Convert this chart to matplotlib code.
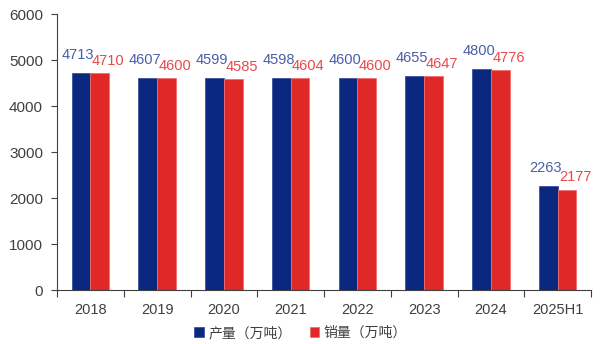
import numpy as np
import matplotlib
matplotlib.use("Agg")
from matplotlib import pyplot as plt

plt.rcParams['font.family'] = ['Liberation Sans', 'Noto Sans CJK SC', 'DejaVu Sans']

years = ['2018', '2019', '2020', '2021', '2022', '2023', '2024', '2025H1']
output = [4713, 4607, 4599, 4598, 4600, 4655, 4800, 2263]
sales = [4710, 4600, 4585, 4604, 4600, 4647, 4776, 2177]
names = ['产量（万吨）', '销量（万吨）']

c_blue = '#0a2880'
c_red = '#e02826'
c_blue_txt = '#4a5ea6'
c_red_txt = '#e8494b'

fig = plt.figure(figsize=(6.01, 3.44), dpi=100)
ax = fig.add_axes([57/601, 1-290/344, (591-57)/601, (290-14)/344])

x = np.arange(len(years))
w = 0.28
ax.bar(x - w/2, output, w, color=c_blue, edgecolor='#3c52a0', linewidth=0.6, label=names[0])
ax.bar(x + w/2, sales, w, color=c_red, edgecolor='#f07070', linewidth=0.6, label=names[1])

for i in range(len(years)):
    ax.annotate(str(output[i]), (x[i] - w/2, output[i]), xytext=(-2, 13),
                textcoords='offset points', ha='center', va='center',
                color=c_blue_txt, fontsize=10.5)
    ax.annotate(str(sales[i]), (x[i] + w/2, sales[i]), xytext=(6, 9),
                textcoords='offset points', ha='center', va='center',
                color=c_red_txt, fontsize=10.5)

ax.set_xlim(-0.5, len(years) - 0.5)
ax.set_ylim(0, 6000)
ax.set_yticks(np.arange(0, 6001, 1000))
ax.set_xticks(x)
ax.set_xticklabels(years)
ax.set_xticks(np.arange(-0.5, len(years), 1), minor=True)
ax.tick_params(axis='x', which='major', length=0, pad=9, labelsize=10.5, labelcolor='#404040')
ax.tick_params(axis='x', which='minor', length=5, width=0.8, color='#404040')
ax.tick_params(axis='y', length=4, width=0.8, color='#404040', labelsize=11, labelcolor='#404040', pad=6)
for s in ['top', 'right']:
    ax.spines[s].set_visible(False)
for s in ['left', 'bottom']:
    ax.spines[s].set_color('#404040')
    ax.spines[s].set_linewidth(0.8)

leg = fig.legend(loc='center', bbox_to_anchor=(0.5, 1-333/344), ncol=2, frameon=False,
                 fontsize=10, handlelength=0.7, handleheight=0.7, handletextpad=0.3,
                 columnspacing=1.3)
for t in leg.get_texts():
    t.set_color('#404040')

fig.savefig('out.png', dpi=100)
